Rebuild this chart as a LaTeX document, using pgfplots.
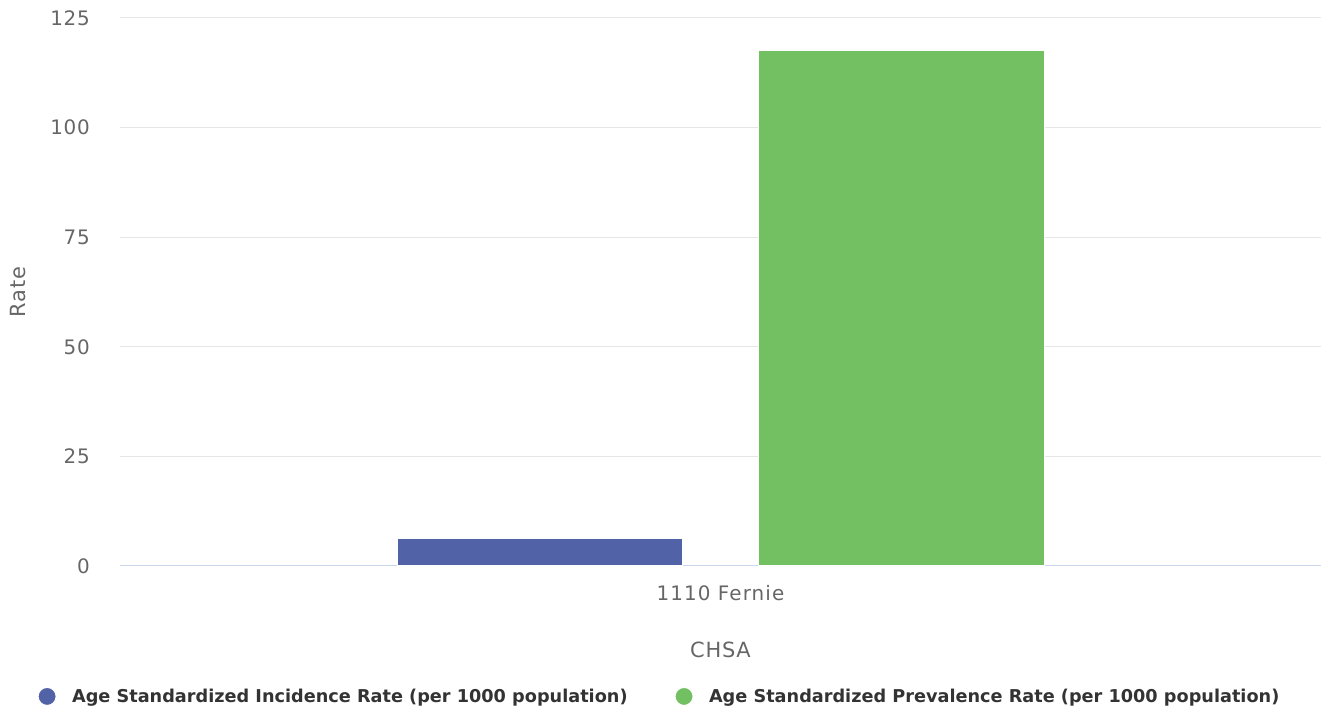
\documentclass[border=0pt]{standalone}
\usepackage{pgfplots}
\pgfplotsset{compat=1.18}
\usepackage{fontspec}
\setmainfont{DejaVu Sans}
\newfontfamily\tickfont[LetterSpace=3.5]{DejaVu Sans}
\newfontfamily\xtickfont[LetterSpace=5.5]{DejaVu Sans}
\newfontfamily\legfont{DejaVu Sans}
\definecolor{cblue}{HTML}{5262A6}
\definecolor{cgreen}{HTML}{73C063}
\definecolor{gridc}{HTML}{E6E6E6}
\definecolor{axisc}{HTML}{CCD6EB}
\definecolor{tickc}{HTML}{666666}
\definecolor{legc}{HTML}{333333}
\begin{document}
\begin{tikzpicture}[x=1bp,y=1bp]
\path[use as bounding box] (0,0) rectangle (1321,713);
\begin{axis}[
  at={(120bp,147bp)}, anchor=south west,
  scale only axis, width=1201bp, height=548bp,
  xmin=-0.5, xmax=0.5, ymin=0, ymax=125,
  ytick={0,25,50,75,100,125},
  xtick={0}, xticklabels={1110 Fernie},
  /pgf/number format/assume math mode=true,
  ymajorgrids, grid style={gridc, line width=1bp},
  axis lines*=left,
  y axis line style={draw=none},
  x axis line style={axisc, line width=1bp},
  major tick length=0pt,
  tick label style={font=\tickfont\fontsize{20}{24}\selectfont, text=tickc, inner sep=0pt},
  yticklabel style={anchor=east, xshift=-30bp},
  xticklabel style={anchor=base, yshift=-35bp, font=\xtickfont\fontsize{20}{24}\selectfont},
  ylabel={Rate}, xlabel={CHSA},
  label style={font=\tickfont\fontsize{21}{25}\selectfont, text=tickc},
  ylabel style={at={(axis description cs:-0.0849,0.5)}, anchor=center, rotate=0},
  xlabel style={at={(axis description cs:0.5,-0.1533)}, anchor=center},
  legend columns=2,
  legend style={at={(axis description cs:0.4492,-0.238)}, anchor=center, draw=none, fill=none,
    font=\legfont\bfseries\fontsize{17.75}{21}\selectfont, text=legc,
    /tikz/every even column/.append style={column sep=45bp}},
  legend image code/.code={\path (0bp,0bp) -- (31.5bp,0bp); \fill (9bp,0bp) circle (9bp);},
  clip=false,
]
\addplot[ybar, bar width=0.238, bar shift=-0.1503, fill=cblue, draw=white, line width=1bp] coordinates {(0,6.2)};
\addlegendentry{Age Standardized Incidence Rate (per 1000 population)}
\addplot[ybar, bar width=0.238, bar shift=0.1507, fill=cgreen, draw=white, line width=1bp] coordinates {(0,117.5)};
\addlegendentry{Age Standardized Prevalence Rate (per 1000 population)}
\end{axis}
\end{tikzpicture}
\end{document}
